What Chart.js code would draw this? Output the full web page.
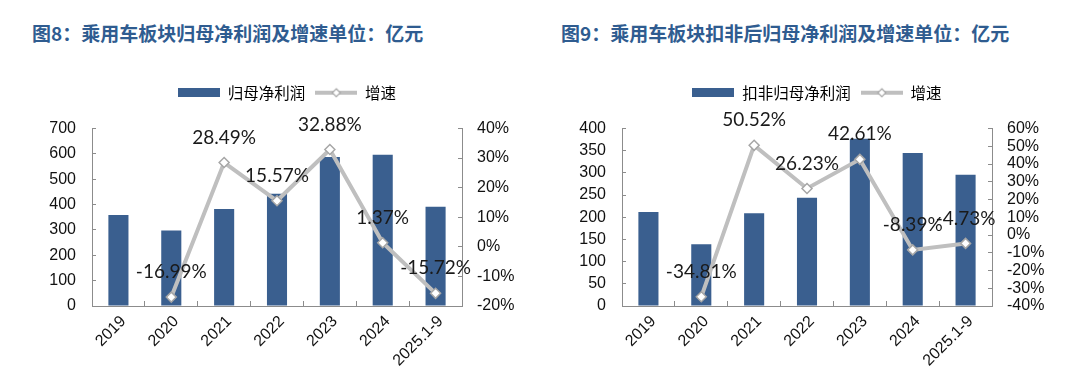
<!DOCTYPE html>
<html>
<head>
<meta charset="utf-8">
<script src="https://cdn.jsdelivr.net/npm/chart.js@4.4.0/dist/chart.umd.min.js"></script>
<style>
  body { margin: 0; background: #fff; width: 1080px; height: 389px; overflow: hidden; position: relative; }
  .title { position: absolute; top: 23px; font: bold 19px "Noto Sans CJK SC", sans-serif; color: #2F5C90; line-height: 20px; white-space: nowrap; }
  canvas { position: absolute; top: 0; }
</style>
</head>
<body>
<div class="title" style="left:32px">图8：乘用车板块归母净利润及增速单位：亿元</div>
<div class="title" style="left:561px">图9：乘用车板块扣非后归母净利润及增速单位：亿元</div>
<canvas id="c1" width="540" height="389" style="left:0"></canvas>
<canvas id="c2" width="540" height="389" style="left:530px"></canvas>
<script>
// 数据
const categories = ['2019', '2020', '2021', '2022', '2023', '2024', '2025.1-9'];

// 图8：归母净利润（亿元）及增速（%）
const profit = [359, 298, 383, 443, 588, 596, 391];
const profitGrowth = [null, -16.99, 28.49, 15.57, 32.88, 1.37, -15.72];

// 图9：扣非归母净利润（亿元）及增速（%）
const profitEx = [212, 139, 209, 244, 377, 345, 296];
const profitExGrowth = [null, -34.81, 50.52, 26.23, 42.61, -8.39, -4.73];

const barColor = '#3A5F8F';
const lineColor = '#BFBFBF';
const axisColor = '#8C8C8C';
const tickFont = { family: '"Liberation Sans", Arial, sans-serif', size: 16 };

// 图例小图标
function barSwatch() {
    const c = document.createElement('canvas');
    c.width = 42; c.height = 9;
    const g = c.getContext('2d');
    g.fillStyle = barColor;
    g.fillRect(0, 0, 42, 9);
    return c;
}
function lineSwatch() {
    const c = document.createElement('canvas');
    c.width = 42; c.height = 12;
    const g = c.getContext('2d');
    g.strokeStyle = lineColor;
    g.lineWidth = 4;
    g.beginPath(); g.moveTo(0, 6); g.lineTo(42, 6); g.stroke();
    g.fillStyle = '#fff';
    g.strokeStyle = '#A6A6A6';
    g.lineWidth = 1.2;
    g.beginPath();
    g.moveTo(21, 2); g.lineTo(25, 6); g.lineTo(21, 10); g.lineTo(17, 6); g.closePath();
    g.fill(); g.stroke();
    return c;
}

// 折线上方的百分比标签
const growthLabels = {
    id: 'growthLabels',
    afterDatasetsDraw(chart) {
        const ctx = chart.ctx;
        const meta = chart.getDatasetMeta(1);
        const values = chart.data.datasets[1].data;
        ctx.save();
        ctx.font = '19px Lato, sans-serif';
        ctx.fillStyle = '#1a1a1a';
        ctx.textAlign = 'center';
        ctx.textBaseline = 'middle';
        meta.data.forEach((pt, i) => {
            if (values[i] === null) return;
            ctx.fillText(values[i].toFixed(2) + '%', pt.x, pt.y - 25);
        });
        ctx.restore();
    }
};

function makeChart(id, barName, bars, growth, yMax, yStep, gMin, gMax) {
    new Chart(document.getElementById(id), {
        data: {
            labels: categories,
            datasets: [
                {
                    type: 'bar',
                    label: barName,
                    data: bars,
                    backgroundColor: barColor,
                    barPercentage: 0.38,
                    categoryPercentage: 1,
                    xAxisID: 'x',
                    yAxisID: 'y',
                    order: 2
                },
                {
                    type: 'line',
                    label: '增速',
                    data: growth,
                    borderColor: lineColor,
                    borderWidth: 4,
                    pointStyle: 'rectRot',
                    pointRadius: 5,
                    pointBackgroundColor: '#fff',
                    pointBorderColor: '#A6A6A6',
                    pointBorderWidth: 1.5,
                    xAxisID: 'x',
                    yAxisID: 'y1',
                    order: 1
                }
            ]
        },
        options: {
            responsive: false,
            animation: false,
            layout: { padding: { left: 34, right: 0, top: 75, bottom: 0 } },
            plugins: {
                tooltip: { enabled: false },
                legend: {
                    position: 'top',
                    labels: {
                        usePointStyle: true,
                        pointStyleWidth: 42,
                        padding: 10,
                        color: '#111',
                        font: { family: '"Noto Sans CJK SC", sans-serif', size: 15.5 },
                        generateLabels: () => [
                            { text: barName, pointStyle: barSwatch(), lineWidth: 0, strokeStyle: 'transparent', fillStyle: barColor, datasetIndex: 0 },
                            { text: '增速', pointStyle: lineSwatch(), lineWidth: 0, strokeStyle: 'transparent', fillStyle: lineColor, datasetIndex: 1 }
                        ]
                    }
                }
            },
            scales: {
                x: {
                    position: 'bottom',
                    grid: { display: true, drawOnChartArea: false, offset: true, tickLength: -5, color: axisColor },
                    border: { color: axisColor },
                    ticks: { color: '#111', font: tickFont, minRotation: 45, maxRotation: 45, padding: 11, labelOffset: 5, autoSkip: false },
                    afterFit: s => { s.height = 83; }
                },
                spacer: {
                    type: 'category',
                    position: 'top',
                    grid: { display: false },
                    border: { display: false },
                    ticks: { display: false },
                    afterFit: s => { s.height = 18; }
                },
                y: {
                    position: 'left',
                    min: 0, max: yMax,
                    grid: { drawOnChartArea: false, tickLength: -4, color: axisColor },
                    border: { color: axisColor },
                    ticks: { stepSize: yStep, color: '#111', font: tickFont, padding: 20, autoSkip: false },
                    afterFit: s => { s.width = 58; }
                },
                y1: {
                    position: 'right',
                    min: gMin, max: gMax,
                    grid: { drawOnChartArea: false, tickLength: -4, color: axisColor },
                    border: { color: axisColor },
                    ticks: { stepSize: 10, color: '#111', font: tickFont, padding: 19, autoSkip: false, callback: v => v + '%' },
                    afterFit: s => { s.width = 78; }
                }
            }
        },
        plugins: [growthLabels]
    });
}

makeChart('c1', '归母净利润', profit, profitGrowth, 700, 100, -20, 40);
makeChart('c2', '扣非归母净利润', profitEx, profitExGrowth, 400, 50, -40, 60);
</script>
</body>
</html>
